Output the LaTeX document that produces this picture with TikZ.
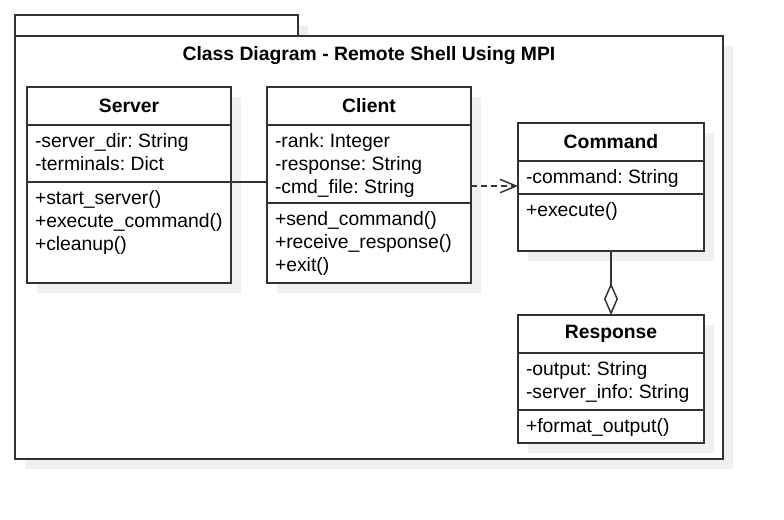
\documentclass[tikz,border=0pt]{standalone}
\usepackage{fontspec}
\setmainfont{Liberation Sans}
\usetikzlibrary{positioning,shadows,arrows.meta}

\frenchspacing
\newcommand{\members}[3]{\parbox[t][#2][t]{#1}{\strut#3}}

\begin{document}
\begin{tikzpicture}[
    x=0.75pt,y=-0.75pt,
    every node/.style={font=\fontsize{14.5}{17.2}\selectfont,text=black},
    boxshadow/.style={drop shadow={shadow xshift=7.5pt,shadow yshift=-7.5pt,fill=black!6,opacity=1}},
    umlbox/.style={rectangle,draw=black!80,fill=white,line width=1.1pt,inner sep=0pt,outer sep=0pt,boxshadow},
    umlhead/.style={umlbox,font=\fontsize{14.5}{17.2}\selectfont\bfseries,minimum height=28.5pt},
    umlpart/.style={umlbox,inner xsep=6pt,inner ysep=5pt},
    wide/.style={minimum width=153pt},
    narrow/.style={minimum width=139.5pt},
    link/.style={draw=black!80,line width=1.1pt},
]
\useasboundingbox (0,0) rectangle (784,519);

%%%
% Package frame
\node[umlbox,anchor=north west,minimum width=212.25pt,minimum height=15.75pt] (pkgtab) at (15,15) {};
\node[umlbox,anchor=north west,minimum width=531pt,minimum height=317.25pt] (pkg) at (15,36) {};
\node[font=\fontsize{14.5}{17.2}\selectfont\bfseries] (title) at (369,56) {Class Diagram - Remote Shell Using MPI};

%%%
% Server
\node[umlhead,wide] (srvhead) at (129,106) {Server};
\node[umlpart,below=0pt of srvhead] (srvattr) {\members{141pt}{32.75pt}{-server\_dir: String\\-terminals: Dict}};
\node[umlpart,below=0pt of srvattr] (srvmeth) {\members{141pt}{65.75pt}{+start\_server()\\+execute\_command()\\+cleanup()}};

%%%
% Client
\node[umlhead,wide] (clihead) at (369,106) {Client};
\node[umlpart,below=0pt of clihead] (cliattr) {\members{141pt}{48.5pt}{-rank: Integer\\-response: String\\-cmd\_file: String}};
\node[umlpart,below=0pt of cliattr] (climeth) {\members{141pt}{50pt}{+send\_command()\\+receive\_response()\\+exit()}};

%%%
% Command
\node[umlhead,narrow] (cmdhead) at (611,142) {Command};
\node[umlpart,below=0pt of cmdhead] (cmdattr) {\members{127.5pt}{14.75pt}{-command: String}};
\node[umlpart,below=0pt of cmdattr] (cmdmeth) {\members{127.5pt}{32.75pt}{+execute()}};

%%%
% Response
\node[umlhead,narrow] (resphead) at (611,334) {Response};
\node[umlpart,below=0pt of resphead] (respattr) {\members{127.5pt}{32.75pt}{-output: String\\-server\_info: String}};
\node[umlpart,below=0pt of respattr] (respmeth) {\members{127.5pt}{14.75pt}{+format\_output()}};

%%%
% Relations
\draw[link] (srvmeth.north east) -- (srvmeth.north east -| cliattr.west);
\draw[link,dash pattern=on 4.5pt off 3pt,-{Straight Barb[length=12pt,width=10pt]}]
    ([yshift=6pt]cmdattr.south west -| cliattr.east) -- ([yshift=6pt]cmdattr.south west);
\draw[link,-{Diamond[fill=white,length=24pt,width=10.5pt]}] (cmdmeth.south) -- (resphead.north);
\end{tikzpicture}
\end{document}
